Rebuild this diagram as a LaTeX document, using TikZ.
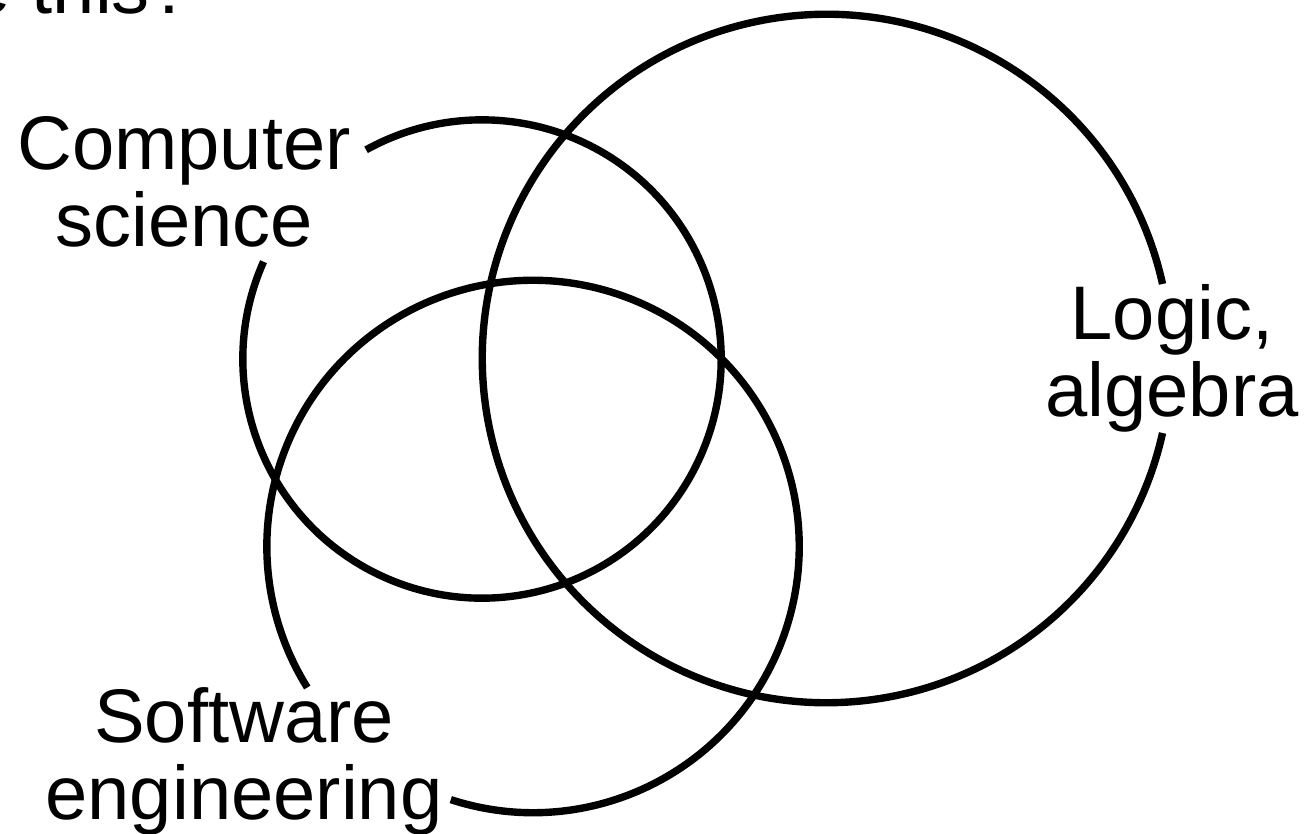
\documentclass[tikz,border=0pt]{standalone}
\usepackage{fontspec}
\setmainfont{Liberation Sans}

\begin{document}
\begin{tikzpicture}[x=0.01cm, y=0.01cm, line width=2.1pt,
        every node/.style={font=\fontsize{21.6}{21.9}\selectfont, align=center, inner sep=0pt}]

        % Size of the slide, cut at its edges.
        \useasboundingbox (0, 0) rectangle (1307, 834);
        \clip (0, 0) rectangle (1307, 834);

        % Centres of the three circles.
        \coordinate (cs) at (482, 475);
        \coordinate (se) at (533, 287.5);
        \coordinate (lg) at (826.5, 475.5);

        % Label the three circles (base is the last line).
        \node (title) at (196, 820) [anchor=base east] {e this?};
        \node (cslabel) at (184, 587) [anchor=base] {Computer\\science};
        \node (selabel) at (244, 14) [anchor=base] {Software\\engineering};
        \node (lglabel) at (1172, 417) [anchor=base] {Logic,\\algebra};

        % Each circle leaves a gap for its label.
        \draw (cs) ++(156:2.39cm) arc[start angle=156, end angle=479, radius=2.39cm];
        \draw (se) ++(252:2.66cm) arc[start angle=252, end angle=572, radius=2.66cm];
        \draw (lg) ++(12.5:3.44cm) arc[start angle=12.5, end angle=347.5, radius=3.44cm];
    \end{tikzpicture}
\end{document}
